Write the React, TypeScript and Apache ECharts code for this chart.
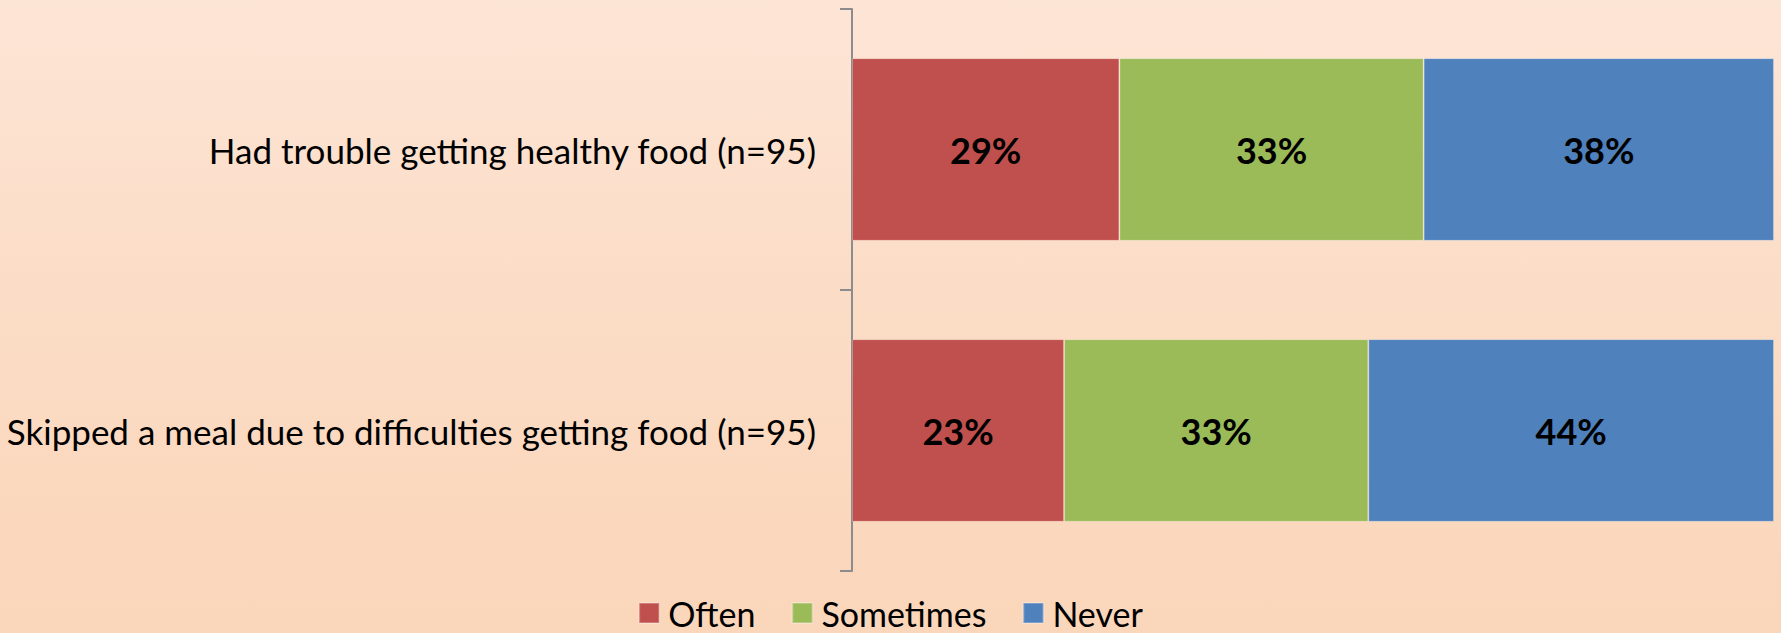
import React, { useEffect, useRef } from "react";
import * as echarts from "echarts";

const categories = [
  "Had trouble getting healthy food (n=95)",
  "Skipped a meal due to difficulties getting food (n=95)",
];
const often = [29, 23];
const sometimes = [33, 33];
const never = [38, 44];
const seriesNames = ["Often", "Sometimes", "Never"];
const colors = ["#C0504D", "#9BBB59", "#4F81BD"];

const FONT = "Lato, 'Open Sans', sans-serif";

export default function App() {
  const ref = useRef<HTMLDivElement>(null);
  useEffect(() => {
    document.body.style.margin = "0";
    const chart = echarts.init(ref.current!, null, { renderer: "svg" });
    const values = [often, sometimes, never];
    chart.setOption({
      animation: false,
      backgroundColor: "transparent",
      textStyle: { fontFamily: FONT },
      grid: { left: 852, right: 7, top: 9, bottom: 62, containLabel: false },
      legend: {
        bottom: -2,
        left: "center",
        icon: "rect",
        itemWidth: 20,
        itemHeight: 20,
        itemGap: 36,
        textStyle: { fontSize: 34, color: "#000", fontFamily: FONT, padding: [0, 0, 0, 4] },
        data: seriesNames,
      },
      xAxis: { type: "value", min: 0, max: 100, show: false },
      yAxis: {
        type: "category",
        inverse: true,
        data: categories,
        axisLine: { show: true, lineStyle: { color: "#8c8c8c", width: 2 } },
        axisTick: { show: true, length: 12, lineStyle: { color: "#8c8c8c", width: 2 } },
        axisLabel: { fontSize: 35, color: "#000", margin: 36, fontFamily: FONT },
      },
      series: seriesNames.map((name, i) => ({
        name,
        type: "bar",
        stack: "total",
        barCategoryGap: "35%",
        data: values[i],
        itemStyle: { color: colors[i], borderColor: "rgba(255,255,255,0.25)", borderWidth: 1 },
        label: {
          show: true,
          position: "inside",
          formatter: "{c}%",
          fontSize: 36,
          fontWeight: "bold",
          color: "#000",
          fontFamily: FONT,
        },
      })),
    });
    return () => chart.dispose();
  }, []);
  return (
    <div
      ref={ref}
      style={{
        position: "absolute",
        left: 0,
        top: 0,
        width: 1781,
        height: 633,
        background: "linear-gradient(180deg, #FDE5D6 0%, #FBDCC5 50%, #FAD6BA 100%)",
      }}
    />
  );
}
